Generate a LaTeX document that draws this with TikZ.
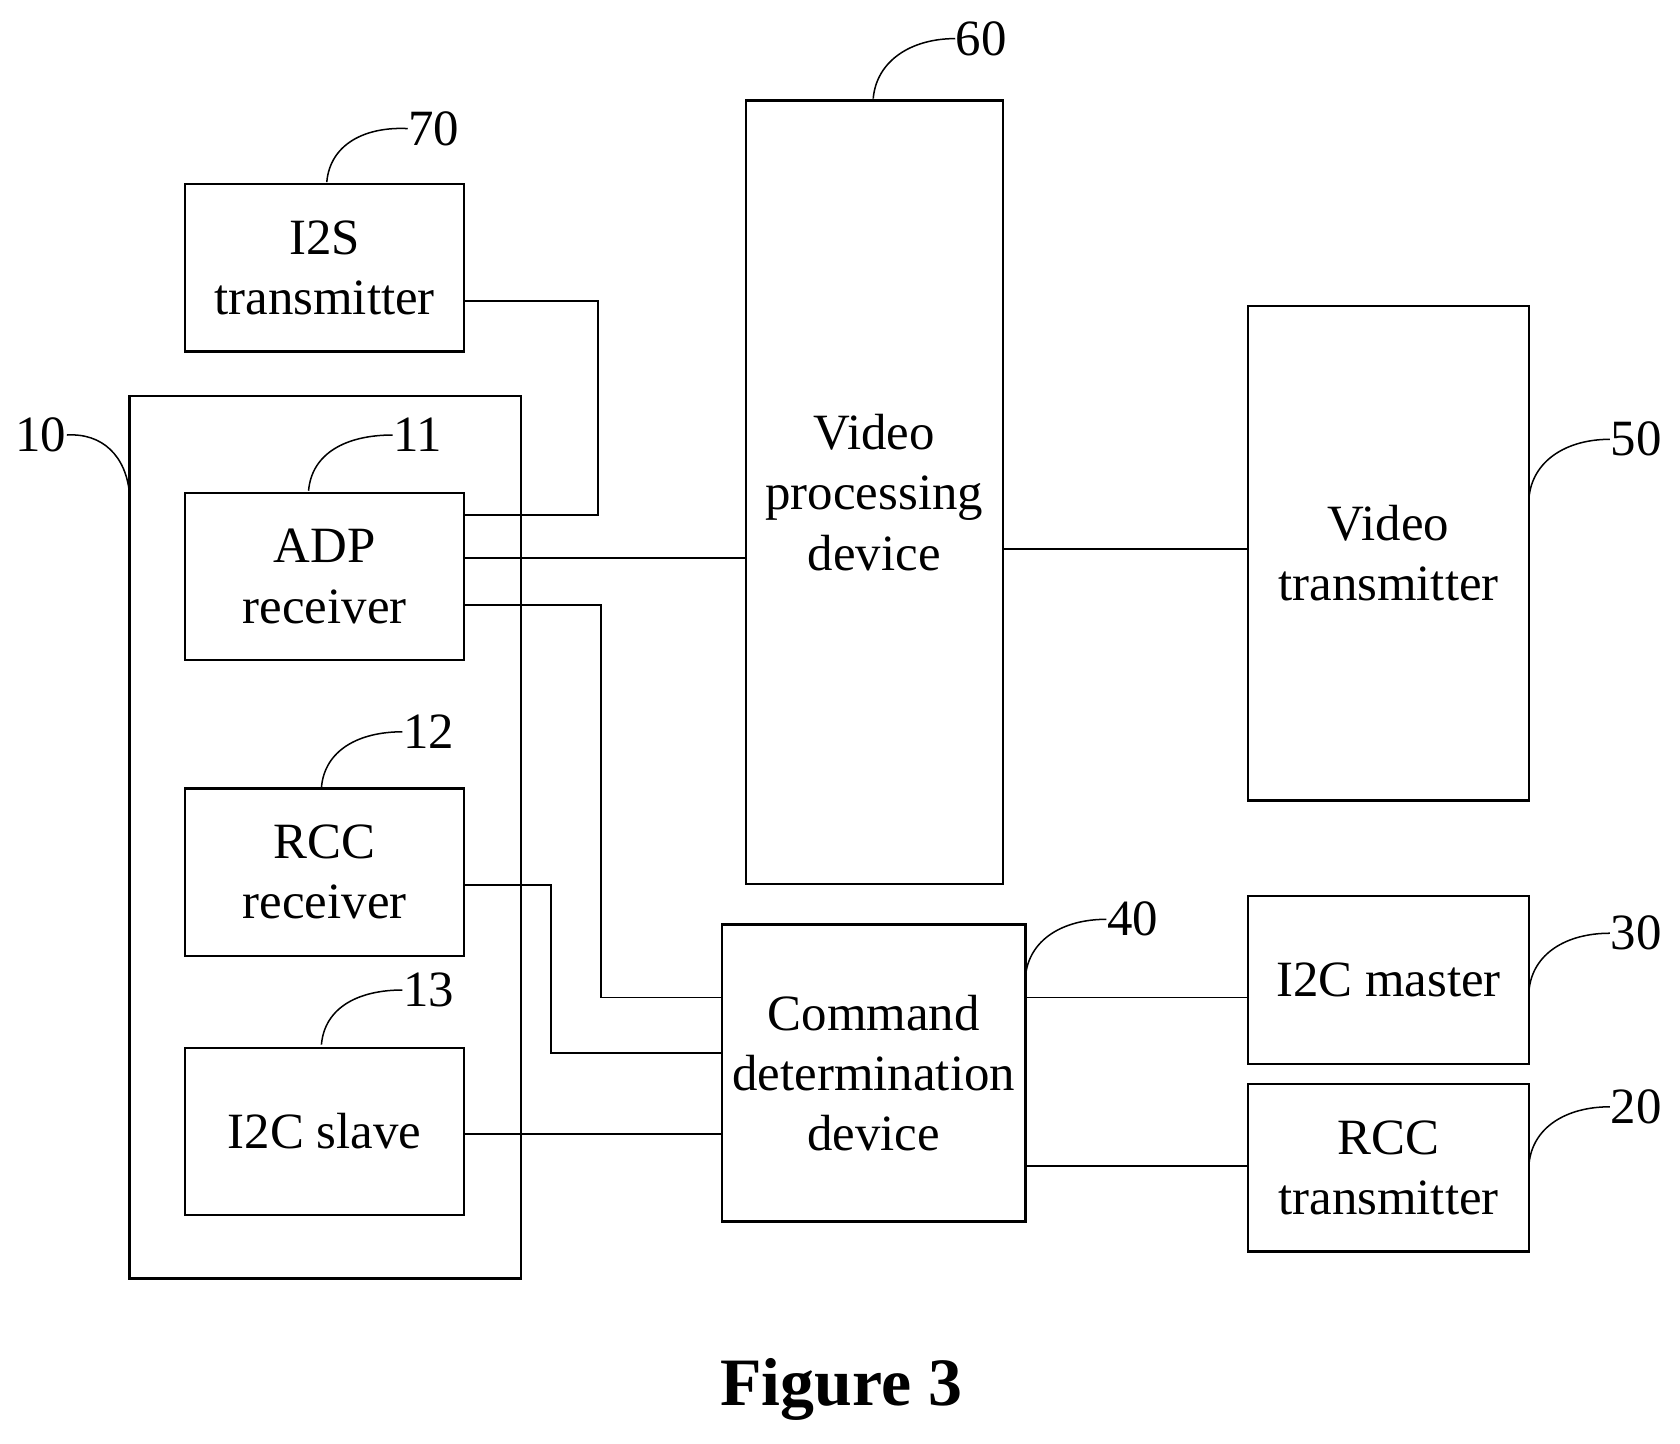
\documentclass[tikz,border=0pt]{standalone}
\usepackage{fontspec}
\setmainfont{Liberation Serif}
\begin{document}
\begin{tikzpicture}[x=0.01cm,y=-0.01cm,
  box/.style={draw,line width=0.6pt,inner sep=0pt,align=center,font=\fontsize{13.5}{16}\selectfont},
  wire/.style={line width=0.5pt},
  lead/.style={line width=0.4pt},
  num/.style={font=\fontsize{13.5}{16}\selectfont,inner sep=0pt}]
\useasboundingbox (0,0) rectangle (1568,1347);
\node[box,minimum width=3.65cm,minimum height=8.23cm] (outer) at (303.5,781.5) {};
\node[box,minimum width=2.6cm,minimum height=1.56cm] (i2s) at (303,250) {I2S\\transmitter};
\node[box,minimum width=2.6cm,minimum height=1.56cm] (adp) at (303,538) {ADP\\receiver};
\node[box,minimum width=2.6cm,minimum height=1.56cm] (rccr) at (303,814) {RCC\\receiver};
\node[box,minimum width=2.6cm,minimum height=1.56cm] (i2cs) at (303,1056) {I2C slave};
\node[box,minimum width=2.4cm,minimum height=7.31cm] (vp) at (816,459.5) {Video\\processing\\device};
\node[box,minimum width=2.62cm,minimum height=4.61cm] (vt) at (1296,516.5) {Video\\transmitter};
\node[box,minimum width=2.83cm,minimum height=2.77cm] (cmd) at (815.5,1001.5) {Command\\determination\\device};
\node[box,minimum width=2.62cm,minimum height=1.57cm] (i2cm) at (1296,914.5) {I2C master};
\node[box,minimum width=2.62cm,minimum height=1.56cm] (rcct) at (1296,1090) {RCC\\transmitter};
\coordinate (j1) at (558,481);
\coordinate (y281) at (0,281);
\coordinate (y521) at (0,521);
\coordinate (j2) at (561,565);
\coordinate (y931) at (0,931);
\coordinate (j3) at (514,826);
\coordinate (y983) at (0,983);
\coordinate (y1058) at (0,1058);
\coordinate (y512) at (0,512);
\coordinate (y1088) at (0,1088);
\draw[wire] (i2s.east |- y281) -| (j1) -- (adp.east |- j1);
\draw[wire] (adp.east |- y521) -- (vp.west |- y521);
\draw[wire] (adp.east |- j2) -- (j2) |- (cmd.west |- y931);
\draw[wire] (rccr.east |- j3) -- (j3) |- (cmd.west |- y983);
\draw[wire] (i2cs.east |- y1058) -- (cmd.west |- y1058);
\draw[wire] (vp.east |- y512) -- (vt.west |- y512);
\draw[wire] (cmd.east |- y931) -- (i2cm.west |- y931);
\draw[wire] (cmd.east |- y1088) -- (rcct.west |- y1088);
% reference numerals
\node[num] (n70) at (405,120) {70};
\node[num] (n10) at (38,406) {10};
\node[num] (n11) at (390,406) {11};
\node[num] (n12) at (400,683) {12};
\node[num] (n13) at (400,924) {13};
\node[num] (n60) at (916,36) {60};
\node[num] (n50) at (1527,410) {50};
\node[num] (n40) at (1057,858) {40};
\node[num] (n30) at (1527,871) {30};
\node[num] (n20) at (1527,1033) {20};
\draw[lead] (305,170) .. controls (308,135) and (340,118) .. (n70.west);
\draw[lead] (288,458) .. controls (291,423) and (323,406) .. (n11.west);
\draw[lead] (300,735) .. controls (303,700) and (335,683) .. (n12.west);
\draw[lead] (300,975) .. controls (303,940) and (335,924) .. (n13.west);
\draw[lead] (815,92) .. controls (818,57) and (850,36) .. (n60.west);
\draw[lead] (1427,465) .. controls (1430,430) and (1462,410) .. (n50.west);
\draw[lead] (957,912) .. controls (960,877) and (992,858) .. (n40.west);
\draw[lead] (1427,925) .. controls (1430,890) and (1462,871) .. (n30.west);
\draw[lead] (1427,1087) .. controls (1430,1052) and (1462,1033) .. (n20.west);
\draw[lead] (n10.east) .. controls (95,404) and (118,425) .. (121,462);
\node[font=\fontsize{18}{22}\selectfont\bfseries] (fig) at (785,1297) {Figure 3};
\end{tikzpicture}
\end{document}
